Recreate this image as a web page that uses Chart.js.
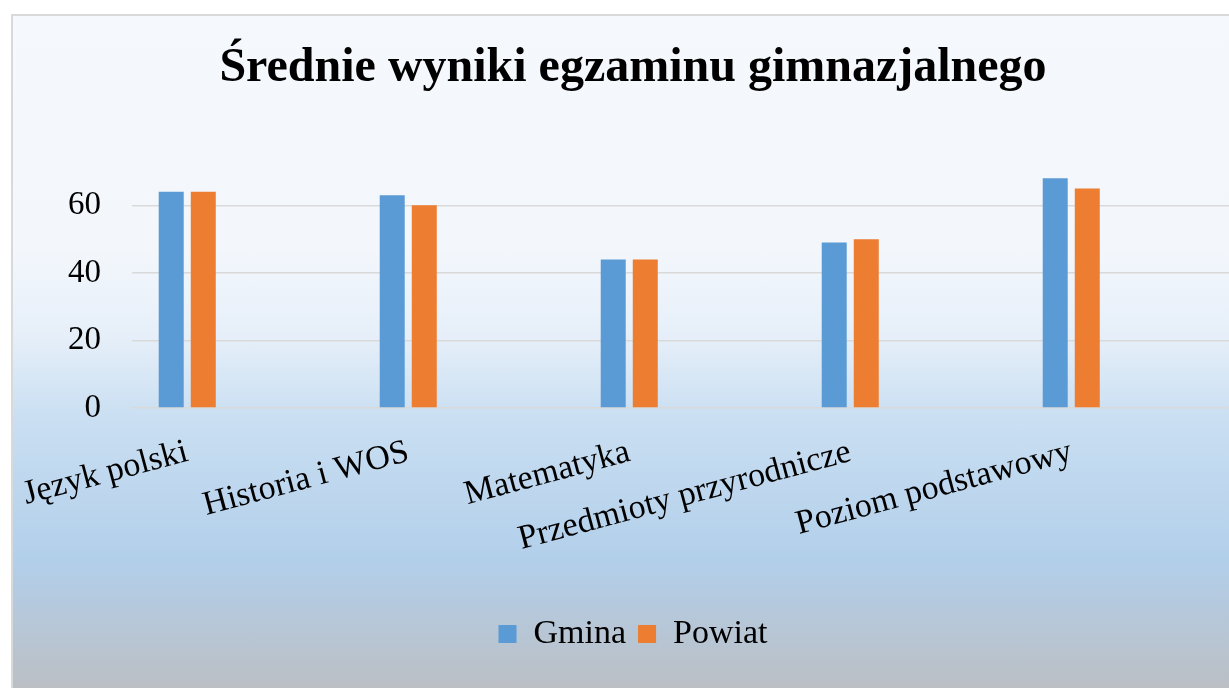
<!DOCTYPE html>
<html>
<head>
<meta charset="utf-8">
<script src="https://cdn.jsdelivr.net/npm/chart.js@4.4.1/dist/chart.umd.min.js"></script>
<style>
  body { margin: 0; background: #fff; overflow: hidden; width: 1229px; height: 688px; }
  #box {
    position: absolute; left: 11px; top: 14px;
    width: 1240px; height: 700px;
    border: 2px solid #d9d9d9;
    background: linear-gradient(to bottom,
      #f5f8fc 0px, #f3f7fc 234px, #e6eff9 320px, #cadff2 400px,
      #b2cfea 545px, #b6c8da 600px, #bbbfc4 672px, #bbbfc4 700px);
  }
  canvas { display: block; }
</style>
</head>
<body>
<div id="box"><canvas id="chart" width="1240" height="700"></canvas></div>
<script>
// dane
const CATEGORIES = ["Język polski", "Historia i WOS", "Matematyka", "Przedmioty przyrodnicze", "Poziom podstawowy"];
const GMINA = [64, 63, 44, 49, 68];
const POWIAT = [64, 60, 44, 50, 65];
const Y_TICKS = [0, 20, 40, 60];

// w arkuszu co druga kategoria jest pusta
let labels = [];
let gminaData = [];
let powiatData = [];
CATEGORIES.forEach((cat, i) => {
  labels.push(cat, "");
  gminaData.push(GMINA[i], null);
  powiatData.push(POWIAT[i], null);
});

const FONT = "'Liberation Serif', 'Times New Roman', serif";

let ctx = document.getElementById("chart").getContext("2d");

let myChart = new Chart(ctx, {
  type: "bar",
  data: {
    labels: labels,
    datasets: [
      { label: "Gmina", data: gminaData, backgroundColor: "#5b9bd5" },
      { label: "Powiat", data: powiatData, backgroundColor: "#ed7d31" },
    ],
  },
  options: {
    responsive: false,
    animation: false,
    categoryPercentage: 0.58,
    barPercentage: 0.78,
    layout: { padding: { left: 0, right: 0, top: 0, bottom: 55 } },
    scales: {
      x: {
        grid: { display: false },
        border: { display: false },
        ticks: {
          autoSkip: false,
          minRotation: 15,
          maxRotation: 15,
          padding: 16,
          color: "#000",
          font: { family: FONT, size: 34 },
        },
        afterFit: (scale) => {
          scale.height = 197;
          scale.paddingLeft = 0;
          scale.paddingRight = 16;
        },
      },
      y: {
        min: 0,
        max: 70,
        grid: { color: "#d9d9d9", lineWidth: 1.5, drawTicks: false },
        border: { display: false },
        ticks: {
          padding: 31,
          color: "#000",
          font: { family: FONT, size: 33 },
        },
        afterBuildTicks: (scale) => {
          scale.ticks = Y_TICKS.map((v) => ({ value: v }));
        },
        afterFit: (scale) => { scale.width = 119; },
      },
    },
    plugins: {
      title: {
        display: true,
        text: "Średnie wyniki egzaminu gimnazjalnego",
        color: "#000",
        font: { family: FONT, size: 48, weight: "bold" },
        padding: { top: 24, bottom: 74 },
      },
      legend: {
        position: "bottom",
        labels: {
          boxWidth: 18,
          boxHeight: 18,
          padding: 12,
          color: "#000",
          font: { family: FONT, size: 34 },
        },
      },
      tooltip: { enabled: false },
    },
  },
});
</script>
</body>
</html>
